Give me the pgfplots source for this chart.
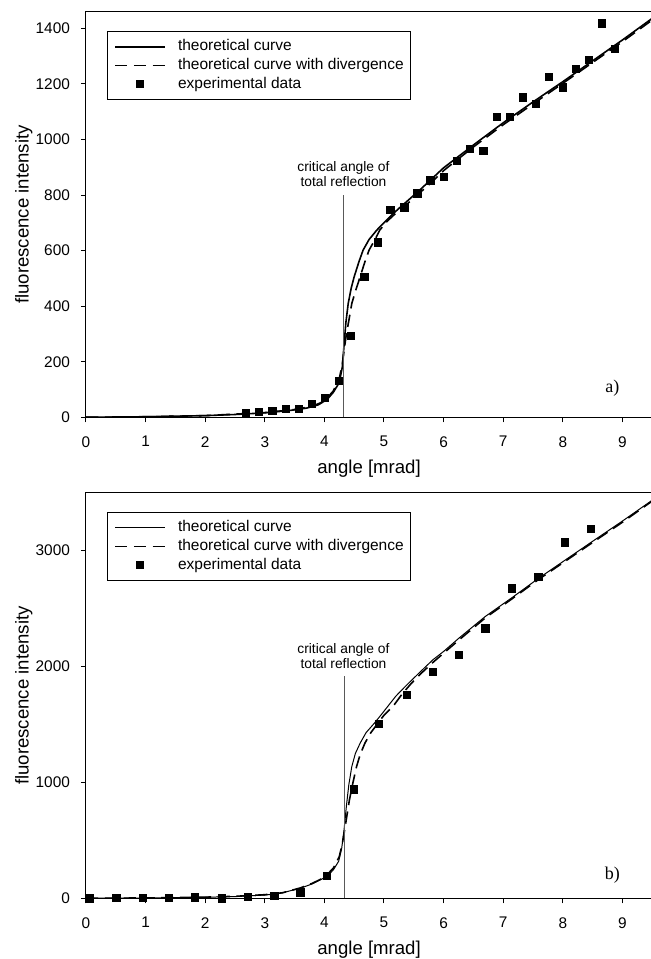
\documentclass[border=0pt]{standalone}
\usepackage{fontspec}
\setmainfont{Liberation Sans}
\newfontfamily\seriffont{Liberation Serif}
\usepackage{pgfplots}
\usepackage{pgfplotstable}
\pgfplotsset{compat=1.18}

% panel a)
\pgfplotstableread{
x y
0 0
0.5 1
1 2
1.5 4
2 6
2.5 10
3 16
3.4 24
3.7 33
3.9 45
4.05 65
4.15 90
4.25 125
4.3 180
4.33 260
4.36 340
4.4 410
4.45 465
4.5 506
4.58 560
4.65 602
4.75 640
4.88 674
5.0 700
5.1 722
5.25 752
5.41 782
5.6 818
5.77 852
6.0 898
6.5 980
7.0 1060
7.5 1135
8.0 1208
8.5 1283
9.0 1358
9.5 1436
}\topsolid

\pgfplotstableread{
x y
0 0
1 2
2 6
3 17
3.5 28
3.8 40
4.0 58
4.15 95
4.25 140
4.3 190
4.33 240
4.37 300
4.42 360
4.46 410
4.53 460
4.6 506
4.68 560
4.75 602
4.85 640
4.93 674
5.05 705
5.2 735
5.4 770
5.6 808
5.8 846
6.0 888
6.5 973
7.0 1053
7.5 1128
8.0 1202
8.5 1277
9.0 1352
9.5 1430
}\topdash

\pgfplotstableread{
x y
2.68 14
2.90 20
3.13 23
3.35 31
3.57 31
3.79 48
4.01 70
4.24 131
4.45 294
4.67 506
4.90 630
5.11 746
5.34 756
5.56 806
5.78 853
6.00 866
6.22 923
6.44 965
6.67 960
6.89 1081
7.11 1081
7.33 1152
7.55 1127
7.77 1225
8.00 1188
8.22 1254
8.44 1286
8.66 1418
8.88 1326
}\topdata

% panel b)
\pgfplotstableread{
x y
0 0
0.5 1
1 3
1.5 5
2 9
2.5 15
3 28
3.26 43
3.59 86
3.8 125
4.04 187
4.15 245
4.24 320
4.29 430
4.33 590
4.37 800
4.41 980
4.46 1137
4.52 1250
4.6 1339
4.7 1430
4.84 1512
4.97 1595
5.1 1680
5.2 1745
5.38 1840
5.6 1950
5.82 2058
6.0 2130
6.26 2246
6.7 2432
7.15 2595
7.59 2760
8.03 2915
8.47 3070
9.0 3255
9.5 3435
}\botsolid

\pgfplotstableread{
x y
0 0
1 3
2 10
2.5 17
3 31
3.3 48
3.6 90
3.8 130
4.0 180
4.15 260
4.25 360
4.3 470
4.34 590
4.38 720
4.42 849
4.48 1000
4.54 1137
4.6 1240
4.68 1339
4.78 1430
4.9 1512
5.0 1580
5.15 1655
5.3 1760
5.45 1850
5.6 1930
5.82 2035
6.0 2115
6.26 2230
6.7 2420
7.15 2585
7.59 2750
8.03 2905
8.47 3060
9.0 3245
9.5 3428
}\botdash

\pgfplotstableread{
x y
0.07 0
0.51 6
0.95 6
1.39 6
1.83 9
2.28 0
2.72 14
3.16 20
3.60 52
4.04 196
4.49 941
4.92 1506
5.38 1756
5.82 1952
6.26 2102
6.70 2329
7.15 2675
7.59 2772
8.03 3072
8.47 3190
}\botdata

\pgfplotsset{
  mypanel/.style={
    scale only axis, width=283.1pt, height=202.8pt,
    anchor=south west,
    xmin=0, xmax=9.5, ymin=0,
    xtick={0,...,9},
    tick align=outside, tick pos=left,
    major tick length=2.5pt,
    every tick/.style={black, line width=0.5pt},
    axis line style={line width=0.5pt},
    ticklabel style={font=\fontsize{7.7}{9}\selectfont},
    xticklabel shift=3.5pt,
    yticklabel shift=2pt,
    /pgf/number format/assume math mode=true,
    /pgf/number format/1000 sep={},
    scaled y ticks=false,
    label style={font=\fontsize{9.3}{11}\selectfont},
    xlabel={angle [mrad]},
    ylabel={fluorescence intensity},
    xlabel style={at={(axis description cs:0.5,-0.1257)}, anchor=center},
    ylabel style={at={(axis description cs:-0.11,0.5)}, anchor=center},
    legend cell align=left,
    legend style={at={(axis description cs:0.037,0.9524)}, anchor=north west,
      draw=black, line width=0.5pt, fill=white,
      inner xsep=3.4pt, inner ysep=4pt,
      font=\fontsize{7.75}{9}\selectfont, row sep=2.15pt,
      nodes={inner sep=0pt, text height=5.6pt, text depth=1.6pt, anchor=west},
      /tikz/every odd column/.append style={column sep=6.1pt}},
  },
  mylinelegend/.style={legend image code/.code={\draw[##1] (0pt,0pt) -- (25pt,0pt);}},
  mymarks/.style={only marks, mark=square*, mark size=1.83pt, black,
    mark options={solid, fill=black},
    legend image code/.code={\draw[mark repeat=2,mark phase=2,##1] plot coordinates {(0pt,0pt) (12.5pt,0pt) (25pt,0pt)};}},
  mydash/.style={black, line width=0.8pt, dash pattern=on 6.2pt off 3.2pt, mylinelegend},
}

\begin{document}
\begin{tikzpicture}
\useasboundingbox (-43pt,-30.35pt) rectangle (282pt,449.15pt);

\begin{axis}[mypanel, at={(0pt,240.5pt)}, ymax=1460, ytick={0,200,...,1400}]
  \addplot[black, line width=0.8pt, mylinelegend] table[x=x, y=y] {\topsolid};
  \addlegendentry{theoretical curve}
  \addplot[mydash] table[x=x, y=y] {\topdash};
  \addlegendentry{theoretical curve with divergence}
  \addplot[mymarks] table[x=x, y=y] {\topdata};
  \addlegendentry{experimental data}
  \addplot[color={black!65}, line width=0.5pt, forget plot] coordinates {(4.32,0) (4.32,800)};
  \node[align=center, font=\fontsize{6.9}{7.8}\selectfont] at (axis cs:4.32,876) {critical angle of\\total reflection};
  \node[font=\seriffont\fontsize{9}{10}\selectfont] at (axis cs:8.83,104) {a)};
\end{axis}

\begin{axis}[mypanel, at={(0pt,0pt)}, ymax=3500, ytick={0,1000,2000,3000}]
  \addplot[black, line width=0.5pt, mylinelegend] table[x=x, y=y] {\botsolid};
  \addlegendentry{theoretical curve}
  \addplot[mydash] table[x=x, y=y] {\botdash};
  \addlegendentry{theoretical curve with divergence}
  \addplot[mymarks] table[x=x, y=y] {\botdata};
  \addlegendentry{experimental data}
  \addplot[color={black!65}, line width=0.5pt, forget plot] coordinates {(4.33,0) (4.33,1914)};
  \node[align=center, font=\fontsize{6.9}{7.6}\selectfont] at (axis cs:4.32,2090) {critical angle of\\total reflection};
  \node[font=\seriffont\fontsize{9}{10}\selectfont] at (axis cs:8.83,202) {b)};
\end{axis}
\end{tikzpicture}
\end{document}
